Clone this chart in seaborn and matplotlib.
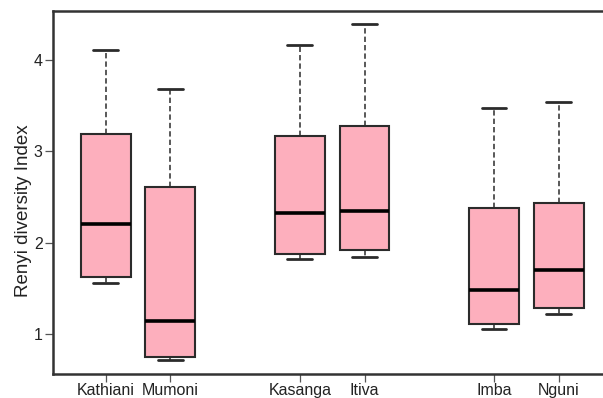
import numpy as np
import pandas as pd
import matplotlib
matplotlib.use("Agg")
import matplotlib.pyplot as plt
import seaborn as sns

# Five-number summaries of the Renyi diversity index per site
sites = ["Kathiani", "Mumoni", "Kasanga", "Itiva", "Imba", "Nguni"]
kathiani = [1.56, 1.62, 2.20, 3.19, 4.11]
mumoni = [0.72, 0.75, 1.14, 2.61, 3.68]
kasanga = [1.82, 1.875, 2.33, 3.17, 4.16]
itiva = [1.84, 1.92, 2.35, 3.28, 4.39]
imba = [1.05, 1.11, 1.48, 2.38, 3.47]
nguni = [1.22, 1.28, 1.70, 2.43, 3.54]
y_ticks = [1, 2, 3, 4]

# Sites are grouped in pairs along the x axis
slots = [1, 2, 4, 5, 7, 8]

series = [kathiani, mumoni, kasanga, itiva, imba, nguni]
rows = []
for site, slot, vals in zip(sites, slots, series):
    for v in vals:
        rows.append({"site": site, "slot": slot, "value": v})
df = pd.DataFrame(rows)

sns.set_theme(style="white")
plt.rcParams["font.family"] = ["Liberation Sans", "DejaVu Sans"]

fig = plt.figure(figsize=(6.03, 3.98), dpi=100)
ax = fig.add_axes([53 / 603, 24 / 398, 1 - 53 / 603, (374 - 11) / 398])

edge = "#2b2b2b"
sns.boxplot(
    data=df, x="slot", y="value", native_scale=True,
    color="#FDAFBD", saturation=1, width=0.77, whis=(0, 100),
    linecolor=edge, linewidth=1.5, ax=ax,
    boxprops=dict(edgecolor=edge, linewidth=1.5),
    medianprops=dict(color="black", linewidth=2.6),
    whiskerprops=dict(color=edge, linewidth=1.1, linestyle=(0, (3.5, 2))),
    capprops=dict(color=edge, linewidth=2.0),
)

ax.set_xlim(0.186, 8.685)
ax.set_ylim(0.562, 4.537)
ax.set_xticks(slots)
ax.set_xticklabels(sites)
ax.set_yticks(y_ticks)
ax.set_yticklabels([str(t) for t in y_ticks])
ax.set_xlabel("")
ax.set_ylabel("Renyi diversity Index", fontsize=13.5, color="#222222")
ax.yaxis.set_label_coords(-0.038, 0.449)

ax.tick_params(axis="both", which="both", direction="out", length=6,
               width=0.9, color="#555555", labelsize=11.5, labelcolor="#222222",
               pad=0.5, left=True, bottom=True)
ax.tick_params(axis="y", pad=1.5)

for side in ["left", "bottom", "top"]:
    ax.spines[side].set_visible(True)
    ax.spines[side].set_color("#333333")
    ax.spines[side].set_linewidth(1.8)
ax.spines["right"].set_visible(False)

fig.savefig("out.png", dpi=100)
